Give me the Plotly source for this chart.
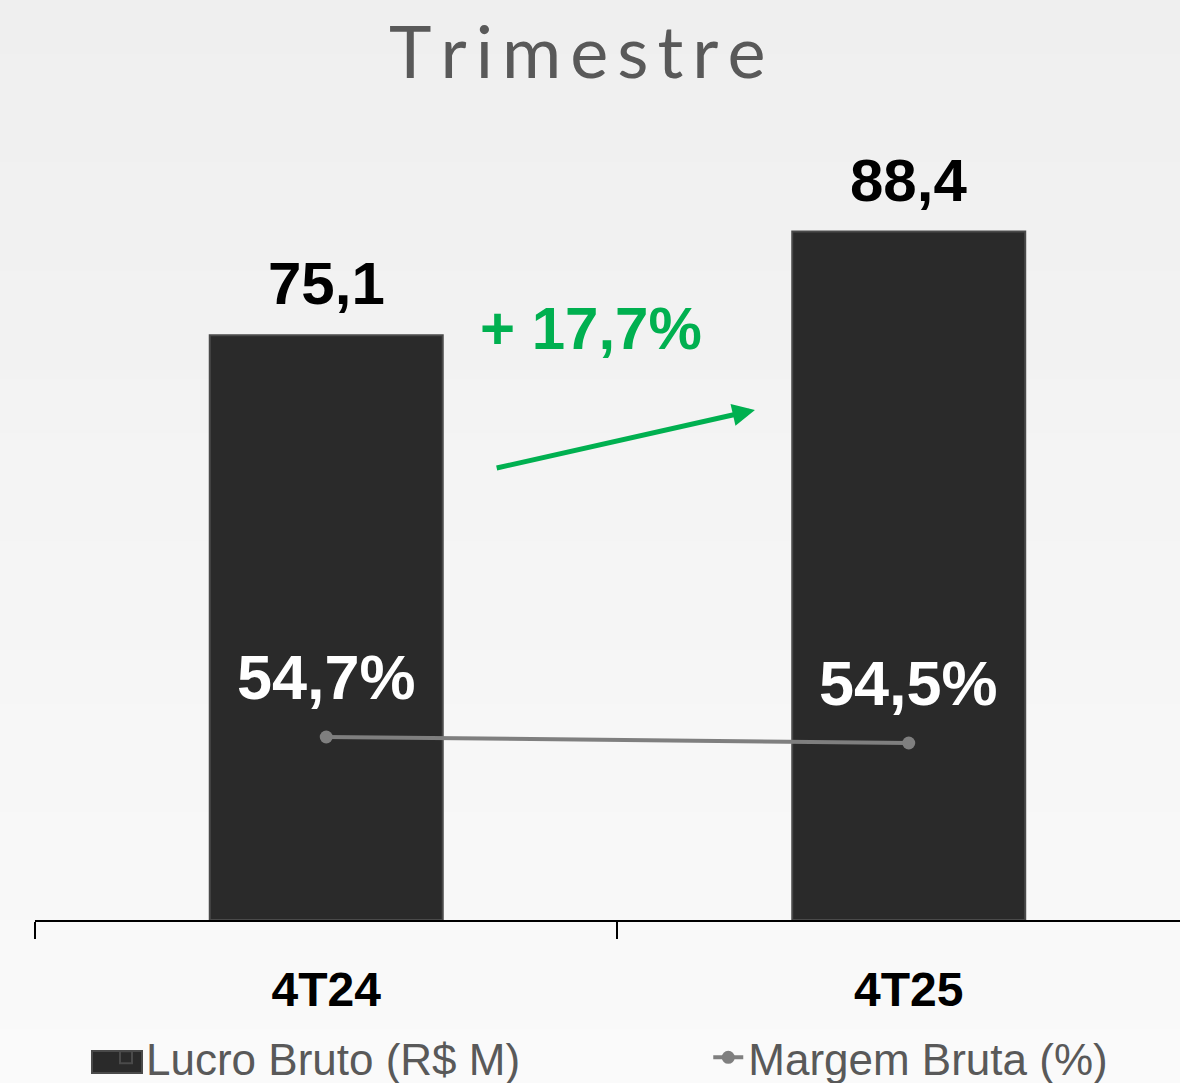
import plotly.graph_objects as go

categories = ["4T24", "4T25"]
lucro_bruto = [75.1, 88.4]
margem_bruta = [54.7, 54.5]
lucro_labels = ["75,1", "88,4"]
margem_labels = ["54,7%", "54,5%"]
growth_label = "+ 17,7%"
title_text = "Trimestre"

fig = go.Figure()

fig.add_trace(go.Bar(
    x=categories, y=lucro_bruto, name="Lucro Bruto (R$ M)",
    width=0.4,
    marker=dict(color="#2a2a2a", line=dict(color="#4a4a4a", width=2)),
    yaxis="y", hoverinfo="skip", legend="legend",
))
fig.add_trace(go.Scatter(
    x=categories, y=margem_bruta, name="Margem Bruta (%)",
    mode="lines+markers",
    line=dict(color="#7f7f7f", width=4),
    marker=dict(color="#7f7f7f", size=13),
    yaxis="y2", hoverinfo="skip", legend="legend2",
))

annotations = []
for c, v, t in zip(categories, lucro_bruto, lucro_labels):
    annotations.append(dict(
        x=c, y=v, xref="x", yref="y", text=f"<b>{t}</b>", showarrow=False,
        yanchor="bottom", yshift=16,
        font=dict(family="Liberation Sans, Arial", size=60, color="#000000"),
    ))
for c, v, t in zip(categories, margem_bruta, margem_labels):
    annotations.append(dict(
        x=c, y=v, xref="x", yref="y2", text=f"<b>{t}</b>", showarrow=False,
        yanchor="bottom", yshift=23,
        font=dict(family="Liberation Sans, Arial", size=63, color="#ffffff"),
    ))

# growth arrow
annotations.append(dict(
    x=0.736, y=65.5, ax=0.29, ay=58.0, xref="x", yref="y", axref="x", ayref="y",
    text="", showarrow=True, arrowhead=2, arrowsize=0.9, arrowwidth=5,
    arrowcolor="#00b050",
))
annotations.append(dict(
    x=0.455, y=75.9, xref="x", yref="y", text=f"<b>{growth_label}</b>",
    showarrow=False, yanchor="middle",
    font=dict(family="Liberation Sans, Arial", size=60, color="#00b050"),
))
# title
annotations.append(dict(
    x=(577 - 35) / 1145, y=1 + (100 - 50) / 820, xref="paper", yref="paper",
    text="\u2009".join(title_text),
    showarrow=False, xanchor="center", yanchor="middle",
    font=dict(family="Lato, Open Sans", size=72, color="#595959"),
))

# background gradient bands
shapes = []
n = 20
top_c = (0xEF, 0xEF, 0xEF)
bot_c = (0xFA, 0xFA, 0xFA)
for k in range(n):
    f = k / (n - 1)
    c = tuple(int(round(top_c[j] + (bot_c[j] - top_c[j]) * f)) for j in range(3))
    shapes.append(dict(
        type="rect", xref="paper", yref="paper",
        x0=-0.1, x1=1.1,
        y0=1 + 100 / 820 - (k + 1) * (1083 / 820) / n - 0.01,
        y1=1 + 100 / 820 - k * (1083 / 820) / n,
        fillcolor="rgb(%d,%d,%d)" % c, line=dict(width=0), layer="below",
    ))
# larger legend swatch for the bar series
shapes.append(dict(
    type="rect", xref="paper", yref="paper",
    x0=(92 - 35) / 1145, x1=(142 - 35) / 1145,
    y0=(920 - 1073) / 820, y1=(920 - 1051) / 820,
    fillcolor="#2a2a2a", line=dict(color="#4a4a4a", width=2), layer="above",
))

legend_font = dict(family="Liberation Sans, Arial", size=44, color="#595959")

fig.update_layout(
    width=1180, height=1083,
    margin=dict(l=35, r=0, t=100, b=163, autoexpand=False),
    paper_bgcolor="#f4f4f4", plot_bgcolor="rgba(0,0,0,0)",
    showlegend=True,
    legend=dict(
        orientation="h", x=0.062, xanchor="left", y=-0.168, yanchor="middle",
        font=legend_font, bgcolor="rgba(0,0,0,0)",
    ),
    legend2=dict(
        orientation="h", x=0.588, xanchor="left", y=-0.168, yanchor="middle",
        font=legend_font, bgcolor="rgba(0,0,0,0)",
    ),
    xaxis=dict(
        type="category", range=[-0.5, 1.4657],
        tickson="boundaries", ticks="outside", ticklen=17, tickwidth=2,
        tickcolor="#000000", showline=True, linecolor="#000000", linewidth=2,
        showgrid=False, zeroline=False, ticklabelstandoff=26,
        tickfont=dict(family="Liberation Sans, Arial", size=48, color="#000000",
                      weight="bold"),
    ),
    yaxis=dict(range=[0, 105.3], visible=False, showgrid=False, zeroline=False),
    yaxis2=dict(range=[48.6, 75.93], overlaying="y", visible=False,
                showgrid=False, zeroline=False),
    annotations=annotations,
    shapes=shapes,
)

fig.write_html("out.html", config={"displayModeBar": False},
               post_script="document.body.style.margin='0';")
